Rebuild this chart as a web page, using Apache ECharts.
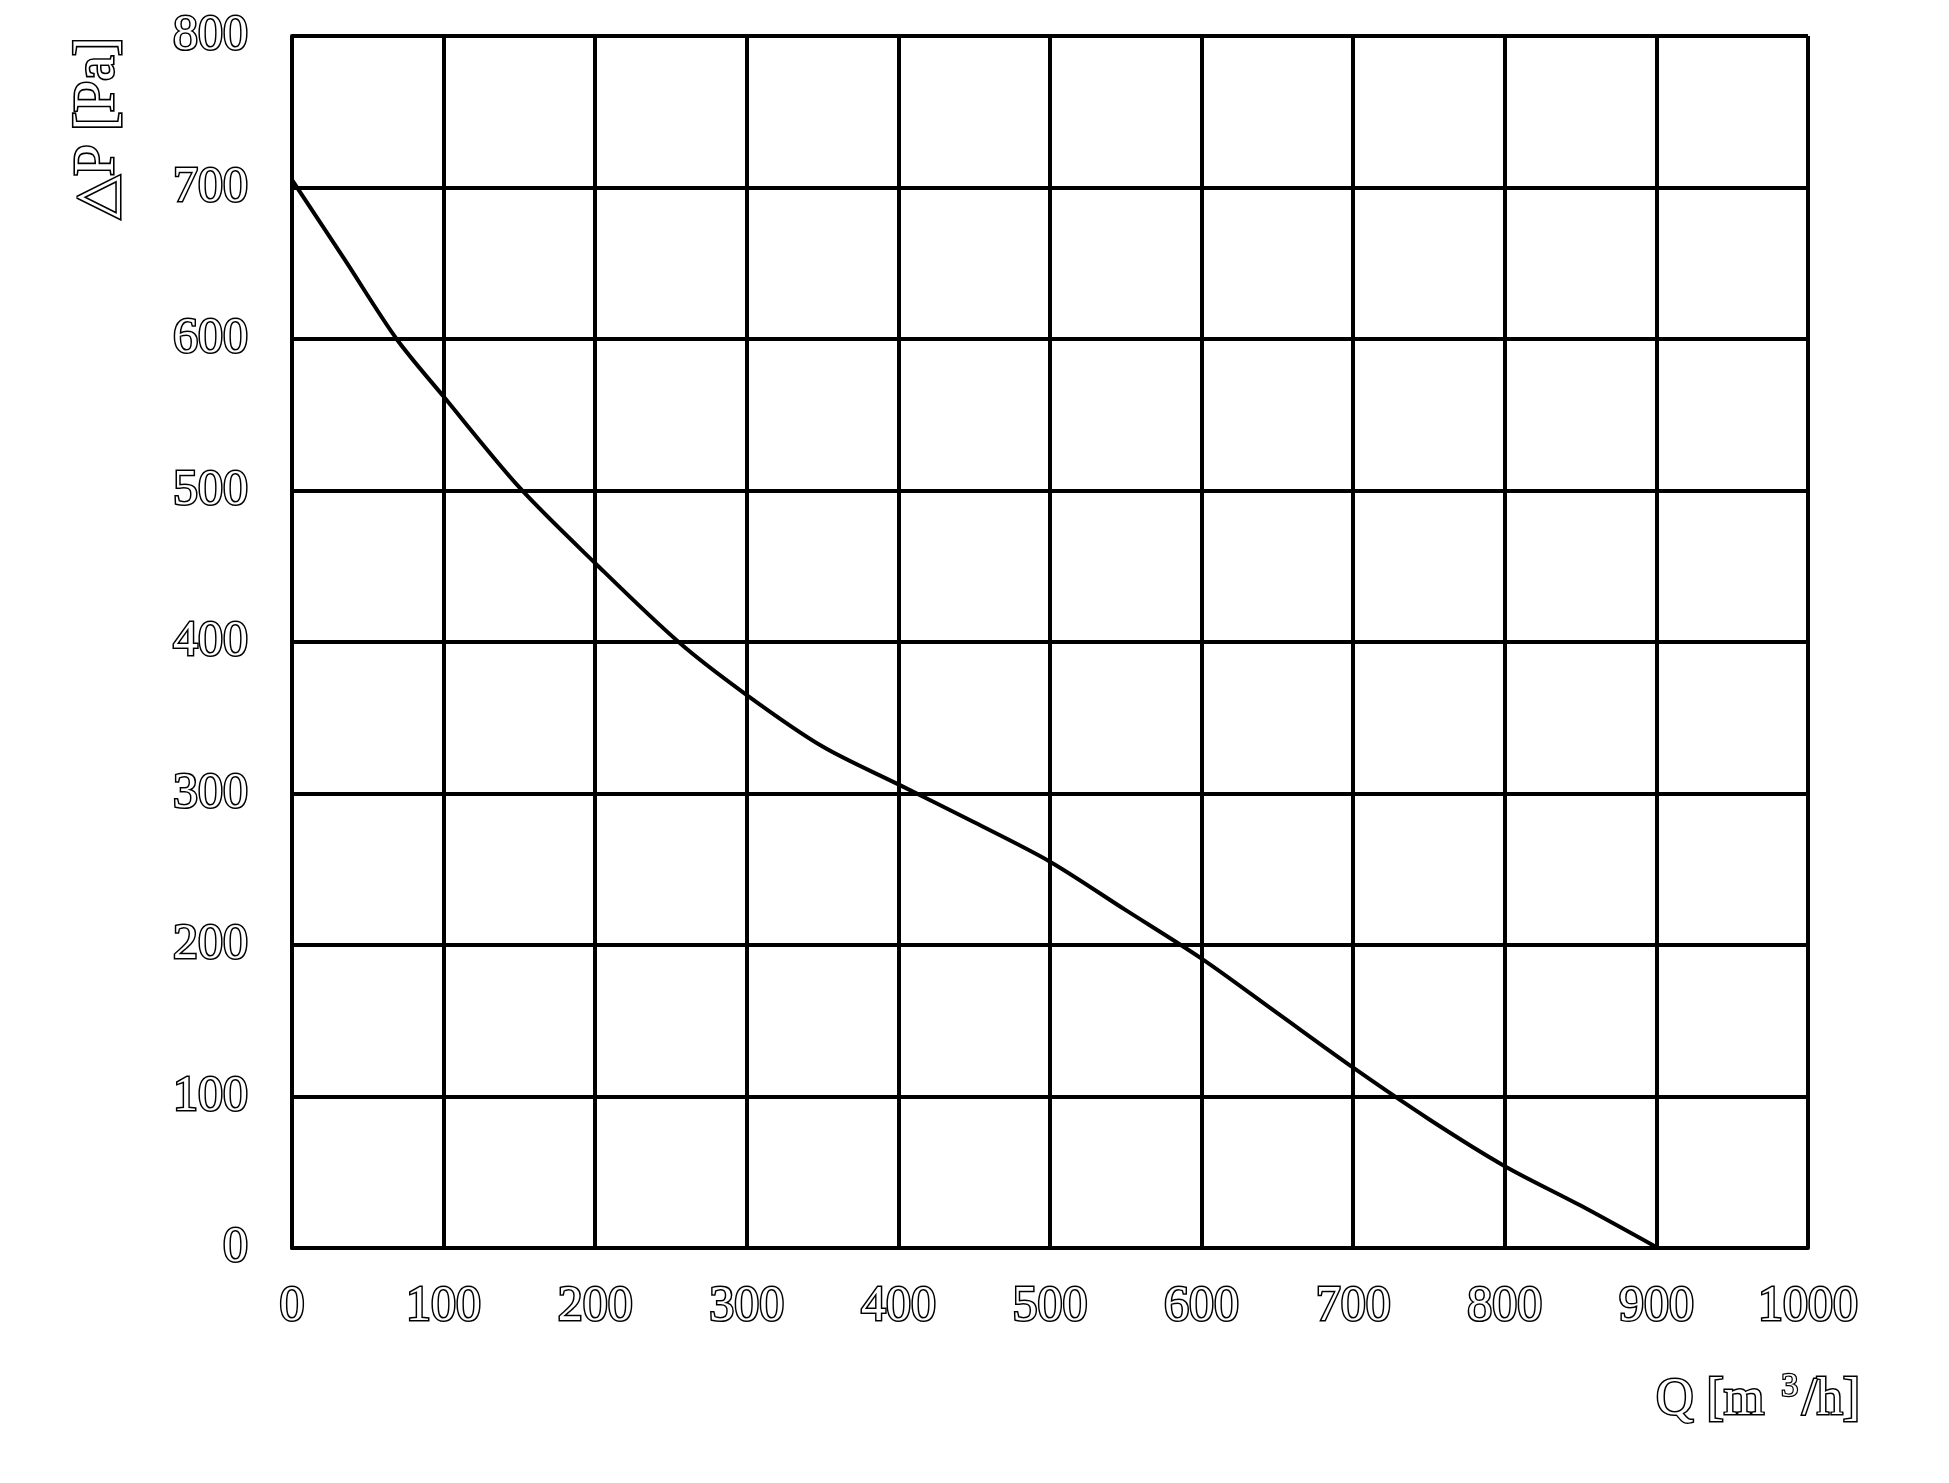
<!DOCTYPE html>
<html>
<head>
<meta charset="utf-8">
<script src="https://cdn.jsdelivr.net/npm/echarts@6/dist/echarts.min.js"></script>
<style>
html,body{margin:0;padding:0;background:#fff;}
#chart{width:1949px;height:1483px;}
</style>
</head>
<body>
<div id="chart"></div>
<script>
// Airflow Q [m3/h]
const flowQ = [0, 35, 69, 100, 150, 200, 255, 300, 350, 400, 450, 500, 550, 600, 650, 700, 750, 800, 850, 901];
// Static pressure dP [Pa]
const pressureP = [705, 652, 600, 562, 502, 452, 400, 365, 331, 306, 281, 255, 223, 191, 155, 119, 85, 54, 28, 0];
const xTicks = [0, 100, 200, 300, 400, 500, 600, 700, 800, 900, 1000];
const yTicks = [0, 100, 200, 300, 400, 500, 600, 700, 800];

const FONT = '"Liberation Serif", "DejaVu Serif", serif';
const labelStyle = {
  fontFamily: FONT, fontSize: 50, color: '#ffffff',
  textBorderColor: '#000000', textBorderWidth: 3
};

const chart = echarts.init(document.getElementById('chart'));
chart.setOption({
  backgroundColor: '#ffffff',
  animation: false,
  grid: { left: 292, top: 36, width: 1516, height: 1212, containLabel: false },
  xAxis: {
    type: 'value', min: xTicks[0], max: xTicks[xTicks.length - 1], interval: 100,
    axisLine: { show: true, lineStyle: { color: '#000', width: 4 } },
    axisTick: { show: false },
    axisLabel: Object.assign({ margin: 34, formatter: v => String(v) }, labelStyle),
    splitLine: { show: true, lineStyle: { color: '#000', width: 4 } }
  },
  yAxis: {
    type: 'value', min: yTicks[0], max: yTicks[yTicks.length - 1], interval: 100,
    axisLine: { show: true, lineStyle: { color: '#000', width: 4 } },
    axisTick: { show: false },
    axisLabel: Object.assign({ margin: 44, formatter: v => String(v) }, labelStyle),
    splitLine: { show: true, lineStyle: { color: '#000', width: 4 } }
  },
  series: [{
    type: 'line',
    data: flowQ.map((q, i) => [q, pressureP[i]]),
    smooth: 0.3,
    showSymbol: false,
    lineStyle: { color: '#000', width: 4 },
    clip: false
  }],
  graphic: [
    {
      type: 'text', x: 98, y: 128, rotation: Math.PI / 2,
      style: {
        text: '△P [Pa]', align: 'center', verticalAlign: 'middle',
        font: '56px ' + FONT, fill: '#ffffff', stroke: '#000000', lineWidth: 3.2
      }
    },
    {
      type: 'text', x: 1860, y: 1400,
      style: {
        text: '{a|Q [m }{s|3}{a|/h]}', align: 'right', verticalAlign: 'middle',
        rich: {
          a: { font: '52px ' + FONT, fill: '#fff', stroke: '#000', lineWidth: 3 },
          s: { font: '34px ' + FONT, fill: '#fff', stroke: '#000', lineWidth: 2.5, padding: [0, 4, 26, 4] }
        }
      }
    }
  ]
});
</script>
</body>
</html>
